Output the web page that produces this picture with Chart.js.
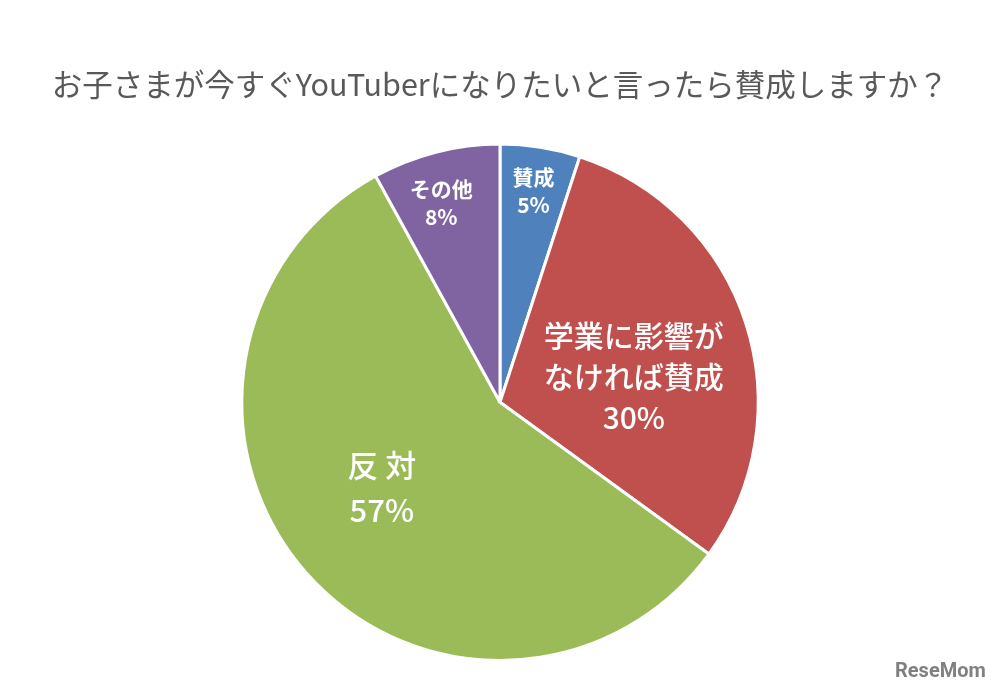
<!DOCTYPE html>
<html><head><meta charset="utf-8">
<script src="https://cdn.jsdelivr.net/npm/chart.js@4"></script>
<style>html,body{margin:0;padding:0;background:#fff;}#wrap{width:1005px;height:692px;position:relative;}</style>
</head><body>
<div id="wrap"><canvas id="c" width="1005" height="692"></canvas></div>
<script>
const titleText = 'お子さまが今すぐYouTuberになりたいと言ったら賛成しますか？';
const categories = ['賛成', '学業に影響がなければ賛成', '反対', 'その他'];
const labelLines = [['賛成'], ['学業に影響が', 'なければ賛成'], ['反 対'], ['その他']];
const values = [5, 30, 57, 8];
const colors = ['#4F81BD', '#C0504D', '#9BBB59', '#8064A2'];
const labelRadius = [0.83, 0.528, 0.566, 0.806];
const labelAngleShift = [0, 7, 5.4, -2];
const labelFont = [21, 30, 31, 21];
const labelWeight = ['bold', '500', '500', 'bold'];
const labelLineH = [28, 41, 45, 28];

const labelPlugin = {
  id: 'sliceLabels',
  afterDatasetsDraw(chart) {
    const ctx = chart.ctx;
    const meta = chart.getDatasetMeta(0);
    meta.data.forEach((arc, i) => {
      const p = arc.getProps(['x','y','startAngle','endAngle','outerRadius'], true);
      const mid = (p.startAngle + p.endAngle) / 2 + labelAngleShift[i] * Math.PI / 180;
      const r = p.outerRadius * labelRadius[i];
      const cx = p.x + Math.cos(mid) * r;
      const cy = p.y + Math.sin(mid) * r;
      const fs = labelFont[i];
      const lines = labelLines[i].concat([values[i] + '%']);
      const lh = labelLineH[i];
      ctx.save();
      ctx.fillStyle = '#fff';
      ctx.textAlign = 'center';
      ctx.textBaseline = 'middle';
      lines.forEach((t, k) => {
        ctx.font = labelWeight[i] + ' ' + fs + 'px "Noto Sans CJK JP", "Noto Sans", sans-serif';
        ctx.fillText(t, cx, cy + (k - (lines.length - 1) / 2) * lh);
      });
      ctx.restore();
    });
    // watermark
    ctx.save();
    ctx.fillStyle = '#808080';
    ctx.font = 'bold 20px Roboto, sans-serif';
    ctx.textAlign = 'left';
    ctx.textBaseline = 'alphabetic';
    ctx.fillText('ReseMom', 895, 677);
    ctx.restore();
  }
};

new Chart(document.getElementById('c'), {
  type: 'pie',
  data: {
    labels: categories,
    datasets: [{
      data: values,
      backgroundColor: colors,
      borderColor: '#ffffff',
      borderWidth: 3
    }]
  },
  options: {
    responsive: false,
    animation: false,
    layout: { padding: { top: 0, bottom: 30, left: 0, right: 5 } },
    plugins: {
      legend: { display: false },
      tooltip: { enabled: false },
      title: {
        display: true,
        text: titleText,
        color: '#595959',
        font: { size: 30.5, family: '"Noto Sans CJK JP", sans-serif', weight: 'normal' },
        padding: { top: 66, bottom: 40 }
      }
    }
  },
  plugins: [labelPlugin]
});
</script>
</body></html>
